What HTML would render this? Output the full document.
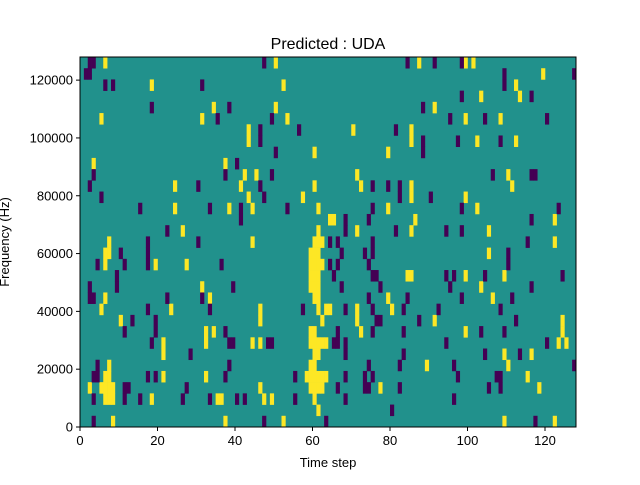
<!DOCTYPE html>
<html><head><meta charset="utf-8"><style>
body{margin:0;background:#fff;}
svg text{font-family:"Liberation Sans","DejaVu Sans",sans-serif;fill:#000;}
</style></head><body>
<svg id="chart" width="640" height="480" viewBox="0 0 640 480" xmlns="http://www.w3.org/2000/svg">
<rect width="640" height="480" fill="#fff"/>
<text x="328" y="49" font-size="16" text-anchor="middle">Predicted : UDA</text>
<g id="cells"></g>
<g id="axes"></g>
<text x="328" y="467" font-size="13" text-anchor="middle">Time step</text>
<text transform="translate(9,242) rotate(-90)" font-size="13" text-anchor="middle">Frequency (Hz)</text>
</svg>
<script>
// Data: per frequency row (index 0 = top row), time steps of each value class
const nTime = 128;
const nRows = 33;
const fMax = 128000;
const xTicks = [0, 20, 40, 60, 80, 100, 120];
const yTicks = [0, 20000, 40000, 60000, 80000, 100000, 120000];
const yTickLabels = ["0", "20000", "40000", "60000", "80000", "100000", "120000"];
const highRows = [
[6,50,87,99,101],[119],[18,52,112],[103,113],[34,50,91],[5,31,53,99,108],[43,70,85],[43,85,102,112],[60,79],[3,37],
[42,45,71,110],[24,41,60,72,85,111],[43,57,85,99],[24,38,44,61,79,102],[64,65,86,122],[26,61,71,85,105],[7,44,60,61,62,122],
[6,7,59,60,61,105],[6,19,27,59,60,61,62],[59,60,61,84,85,99,109],[31,59,60,61,103],[6,33,60,61,79,106],[5,23,46,61,63,64,71,80],
[10,46,62,71,91,124],[32,34,59,60,72,99,124],[21,32,44,46,59,60,61,62,63,123,125],[21,60,61,109,116],[7,59,60,89,110],
[6,7,21,32,58,59,60,61,62,63,115],[2,5,6,7,8,46,59,60,61,62,77,118],[6,7,8,18,35,36,47,49,60],[61],[8,37,52,109,122]
];
const lowRows = [
[2,3,47,84,91,98],[1,2,109,127],[6,8,31,109],[98,116],[18,38,88],[35,49,95,104,120],[46,56,81],[46,88,97,108],[50,88],[40],
[3,37,49,106,116,117],[2,30,46,75,79,82],[5,47,82,90],[15,33,41,53,75,98,123],[41,68,74,116],[22,68,81,94,98],[17,30,64,66,75,115],
[10,17,67,73,75,110],[4,11,17,36,64,66,74,110],[9,65,75,76,94,96,104,124],[2,9,39,67,77,95,116],[2,3,22,31,74,84,98,111],
[17,33,57,68,75,83,92,108],[13,19,76,77,87,112],[11,19,37,66,75,83,103,109],[18,38,39,48,49,65,66,68,94,120],[28,68,83,104,113],
[4,38,74,82,96,127],[3,4,17,19,37,55,68,73,75,97,107,108],[11,12,27,66,73,74,82,105,108],[3,11,15,26,33,40,42,55,68,96],[80],[3,47,63,117]
];

const L=80,R=576,T=57,B=427;
const NS="http://www.w3.org/2000/svg";
const xS = t => L + (R-L)*t/nTime;
const yS = f => B - (B-T)*f/fMax;
const binHz = fMax/nRows;
const cells=document.getElementById('cells');
const axes=document.getElementById('axes');
function mk(tag,attrs,parent){const e=document.createElementNS(NS,tag);for(const k in attrs)e.setAttribute(k,attrs[k]);parent.appendChild(e);return e;}

const bg=mk('rect',{x:L,y:T,width:R-L,height:B-T,fill:'#21918c'},cells);



function drawCells(rows,color,name){
  rows.forEach((list,r)=>{
    const fTop=(nRows-r)*binHz, fBot=(nRows-r-1)*binHz;
    list.forEach(t=>{
      const x0=xS(t),x1=xS(t+1),y0=yS(fTop),y1=yS(fBot);
      const c=mk('rect',{x:x0,y:y0,width:x1-x0+0.3,height:y1-y0+0.3,fill:color},cells);
      
      
    });
  });
}
drawCells(highRows,'#fde725','heatmap-cell-high');
drawCells(lowRows,'#440154','heatmap-cell-low');

const frame=mk('rect',{x:L,y:T,width:R-L,height:B-T,fill:'none',stroke:'#000','stroke-width':1},axes);



xTicks.forEach(v=>{
  const x=xS(v);
  const tk=mk('line',{x1:x,x2:x,y1:B,y2:B+4,stroke:'#000'},axes);
  
  
  const tx=mk('text',{x:x,y:B+18,'font-size':13,'text-anchor':'middle'},axes);
  tx.textContent=String(v);
  
  
});
yTicks.forEach((v,i)=>{
  const y=yS(v);
  const tk=mk('line',{x1:L-4,x2:L,y1:y,y2:y,stroke:'#000'},axes);
  
  
  const tx=mk('text',{x:L-7,y:y+4.5,'font-size':13,'text-anchor':'end'},axes);
  tx.textContent=yTickLabels[i];
  
  
});
</script>
</body></html>
